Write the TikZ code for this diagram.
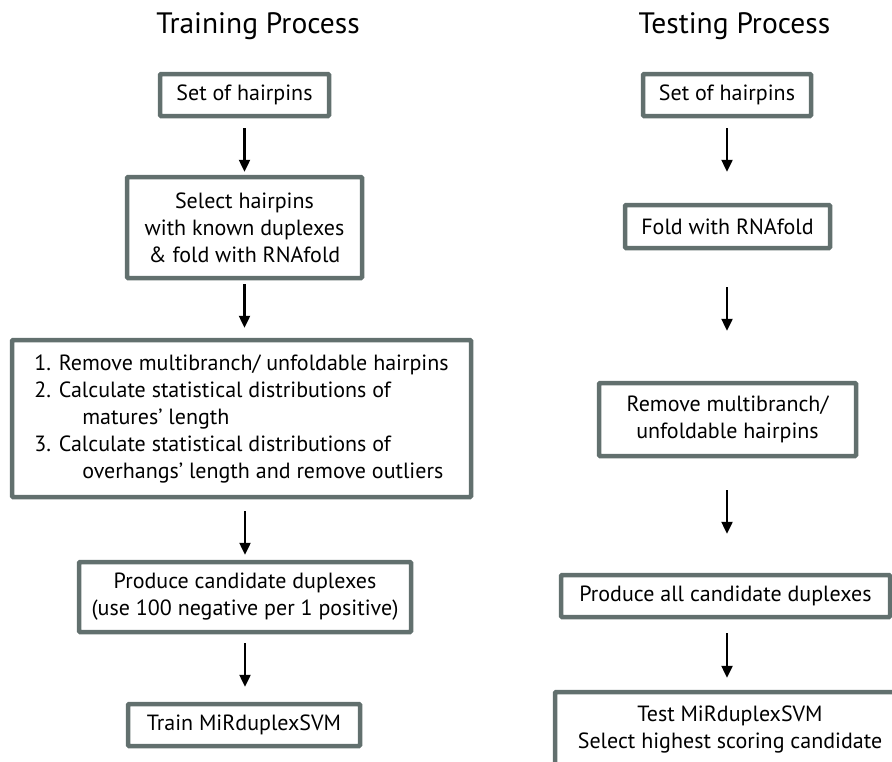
\documentclass[tikz,border=0pt]{standalone}
\usepackage{fontspec}
\setmainfont{PT Sans}
\usetikzlibrary{arrows.meta}
\definecolor{boxgray}{RGB}{98,112,110}

\begin{document}
\begin{tikzpicture}[x=1pt,y=-1pt,
		box/.style={draw=boxgray,line width=4.5pt,rounded corners=1pt,align=center,inner sep=0pt,font=\fontsize{22}{27}\selectfont},
		heading/.style={anchor=base,font=\fontsize{29.5}{34}\selectfont},
		flow/.style={-{Triangle[width=11pt,length=12pt]},line width=2.4pt}]
		\useasboundingbox (0,0) rectangle (892,761);
		\clip (0,0) rectangle (892,761);
		% training
		\node[heading] (trainTitle) at (258,33) {Training Process};
		\node[box,minimum width=169,minimum height=42] (tr1) at (244.5,95) {Set of hairpins};
		\node[box,minimum width=235,minimum height=101] (tr2) at (244.5,227.5) {Select hairpins\\with known duplexes\\\& fold with RNAfold};
		\node[box,align=left,minimum width=459,minimum height=157] (tr3) at (241.5,418.5) {1. Remove multibranch/ unfoldable hairpins\\
			2. Calculate statistical distributions of\\
			\hspace*{48pt}matures' length\\
			3. Calculate statistical distributions of\\
			\hspace*{48pt}overhangs' length and remove outliers};
		\node[box,minimum width=332,minimum height=70] (tr4) at (245,597) {Produce candidate duplexes\\(use 100 negative per 1 positive)};
		\node[box,minimum width=232,minimum height=42] (tr5) at (244,725) {Train MiRduplexSVM};
		% testing
		\node[heading] (testTitle) at (734.5,33) {Testing Process};
		\node[box,minimum width=168,minimum height=42] (te1) at (727,95) {Set of hairpins};
		\node[box,minimum width=205,minimum height=43] (te2) at (727.5,226.5) {Fold with RNAfold};
		\node[box,minimum width=257,minimum height=73] (te3) at (727.5,419.5) {Remove multibranch/\\unfoldable hairpins};
		\node[box,minimum width=329,minimum height=42] (te4) at (725.5,596) {Produce all candidate duplexes};
		\node[box,minimum width=350,minimum height=74] (te5) at (730,729) {Test MiRduplexSVM\\Select highest scoring candidate};
		% arrows
		\draw[flow,shorten <=10pt,shorten >=3pt] (tr1.south) -- (tr1.south |- tr2.north);
		\draw[flow,shorten <=4pt,shorten >=10pt] (tr2.south) -- (tr2.south |- tr3.north);
		\draw[flow,shorten <=12pt,shorten >=5pt] (tr3.south -| tr4.north) -- (tr4.north);
		\draw[flow,shorten <=9pt,shorten >=15pt] (tr4.south) -- (tr4.south |- tr5.north);
		\draw[flow,shorten <=10pt,shorten >=31pt] (te1.south) -- (te1.south |- te2.north);
		\draw[flow,shorten <=37pt,shorten >=50pt] (te1.south |- te2.south) -- (te1.south |- te3.north);
		\draw[flow,shorten <=32pt,shorten >=39pt] (te1.south |- te3.south) -- (te1.south |- te4.north);
		\draw[flow,shorten <=14pt,shorten >=12pt] (te1.south |- te4.south) -- (te1.south |- te5.north);
	\end{tikzpicture}
\end{document}
